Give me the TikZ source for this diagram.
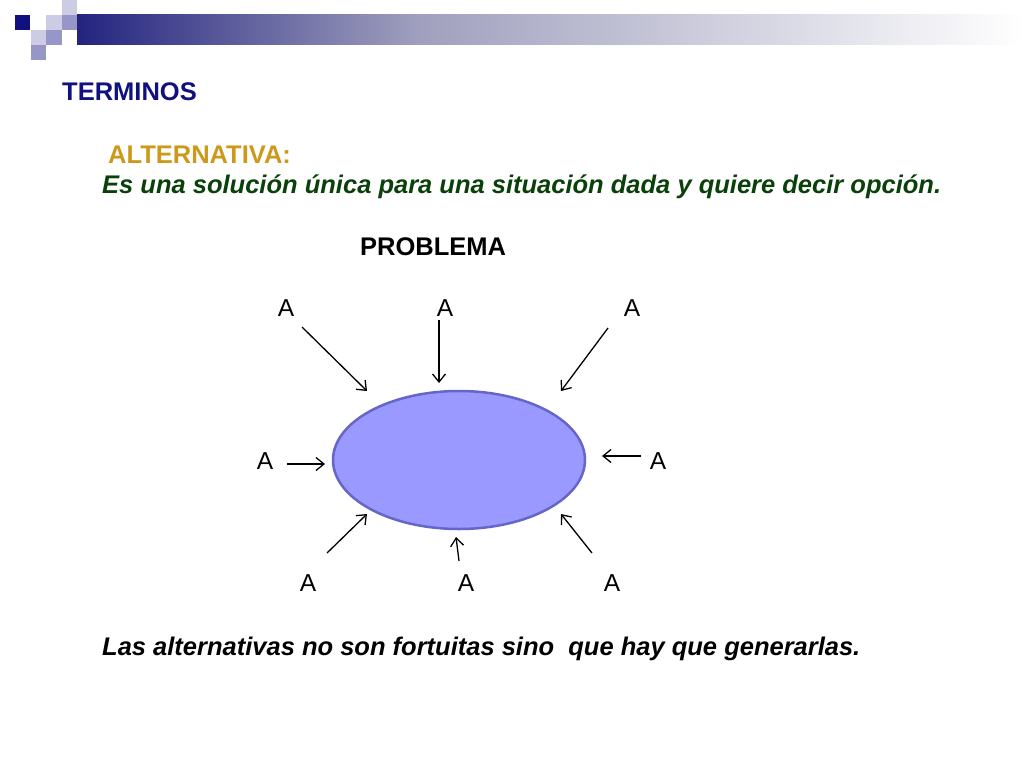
\documentclass[tikz,border=0pt]{standalone}
\usepackage{fontspec}
\setmainfont{Liberation Sans}
\usetikzlibrary{shapes,arrows,arrows.meta}

\definecolor{azul}{RGB}{16,16,128}
\definecolor{oro}{RGB}{204,153,26}
\definecolor{verde}{RGB}{10,64,10}
\definecolor{lila}{RGB}{153,153,255}
\definecolor{borde}{RGB}{102,102,200}
\definecolor{claro}{RGB}{204,204,228}
\definecolor{medio}{RGB}{150,150,200}

\begin{document}
\begin{tikzpicture}[x=1pt, y=-1pt, >={Straight Barb[length=8pt,width=13pt]},
    titulo/.style={anchor=base west, inner sep=0pt, font=\bfseries\fontsize{25.5}{30}\selectfont},
    frase/.style={anchor=base west, inner sep=0pt, font=\bfseries\itshape\fontsize{25.5}{30}\selectfont},
    letra/.style={inner sep=0pt, font=\fontsize{24.5}{29}\selectfont},
    flecha/.style={->, line width=1.3pt}]
  \useasboundingbox (0,0) rectangle (1024,768);

    % Decoracion
    \fill [azul] (15,15) rectangle (30,30);
    \fill [claro] (62,0) rectangle (77,15);
    \fill [claro] (46,15) rectangle (62,30);
    \fill [medio] (62,15) rectangle (77,30);
    \fill [claro] (31,30) rectangle (46,45);
    \fill [medio] (46,30) rectangle (62,45);
    \fill [medio] (31,45) rectangle (46,60);
    \shade [left color={rgb,255:red,36;green,36;blue,128}, right color={rgb,255:red,160;green,160;blue,190}] (77,15) rectangle (420,45);
    \shade [left color={rgb,255:red,160;green,160;blue,190}, right color=white] (420,15) rectangle (1024,45);

    % Textos
    \node [titulo, text=azul] (terminos) at (62,100) {TERMINOS};
    \node [titulo, text=oro] (alternativa) at (108,163) {ALTERNATIVA:};
    \node [frase, text=verde] (definicion) at (102,193) {Es una solución única para una situación dada y quiere decir opción.};
    \node [titulo] (problema) at (360,255) {PROBLEMA};
    \node [frase] (conclusion) at (102,655) {Las alternativas no son fortuitas sino\ \ que hay que generarlas.};

    % Problema
    \node [draw=borde, fill=lila, ellipse, line width=2.5pt, minimum width=252pt, minimum height=138pt, inner sep=0pt] (problema_mare) at (459,460) {};

    % Alternativas
    \node [letra] (alternativa1) at (286,308) {A};
    \node [letra] (alternativa2) at (445,308) {A};
    \node [letra] (alternativa3) at (632,308) {A};
    \node [letra] (alternativa4) at (265,461) {A};
    \node [letra] (alternativa5) at (658,461) {A};
    \node [letra] (alternativa6) at (308,583) {A};
    \node [letra] (alternativa7) at (466,583) {A};
    \node [letra] (alternativa8) at (612,583) {A};

    % Puntos de las flechas
    \coordinate (inicio1) at (302,327); \coordinate (punta1) at (367,391);
    \coordinate (inicio2) at (439,320); \coordinate (punta2) at (439,383);
    \coordinate (inicio3) at (608,328); \coordinate (punta3) at (561,391);
    \coordinate (inicio4) at (287,464); \coordinate (punta4) at (325,464);
    \coordinate (inicio5) at (641,456); \coordinate (punta5) at (602,456);
    \coordinate (inicio6) at (327,553); \coordinate (punta6) at (367,514);
    \coordinate (inicio7) at (459,561); \coordinate (punta7) at (456,537);
    \coordinate (inicio8) at (592,553); \coordinate (punta8) at (561,514);

    % Flechas
    \foreach \i in {1,...,8}
      \draw [flecha] (inicio\i) -- (punta\i);

\end{tikzpicture}
\end{document}
